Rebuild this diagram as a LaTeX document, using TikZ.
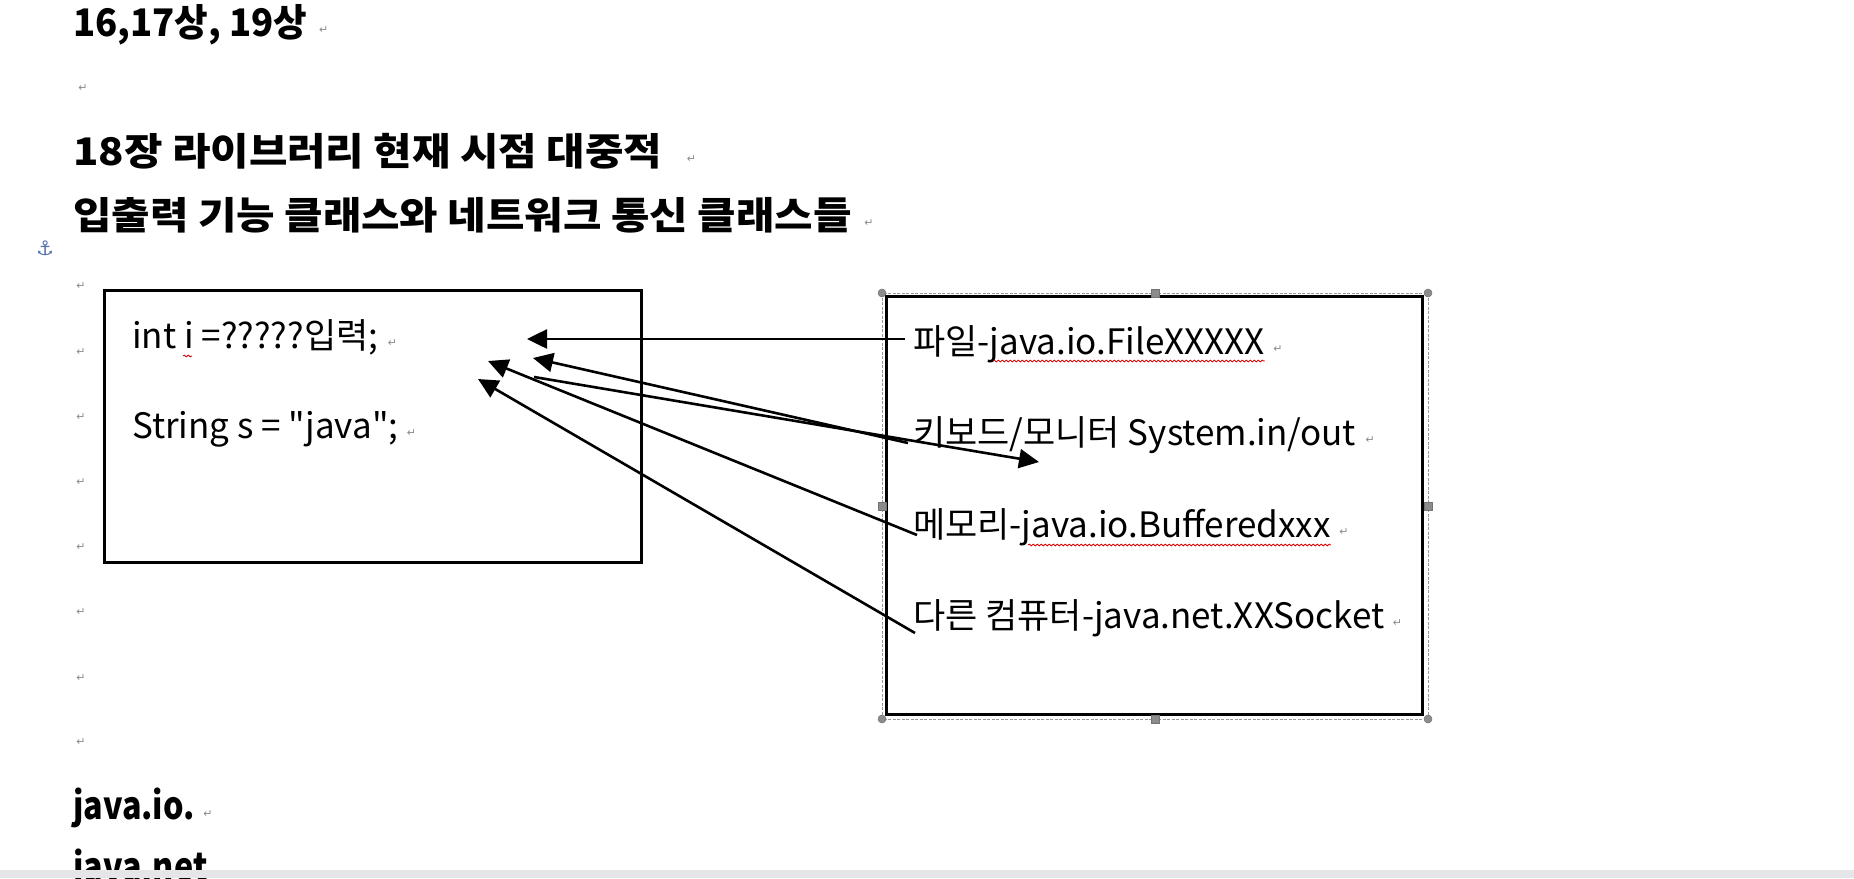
\documentclass[tikz,border=0pt]{standalone}
\usepackage{fontspec}
\setmainfont{Noto Sans CJK KR}
\newfontfamily\bodyf{Noto Sans CJK KR}[Ligatures=TeXOff]
\newfontfamily\hdK{Noto Sans CJK KR}[FakeStretch=1.1]
\newfontfamily\hdA{Noto Sans CJK KR}[FakeStretch=0.96]
\newfontfamily\hdJ{Noto Sans CJK KR}[FakeStretch=0.85]
\newfontfamily\dv{DejaVu Sans}
\usetikzlibrary{arrows.meta,decorations.pathmorphing}
\begin{document}
\begin{tikzpicture}[x=1pt,y=-1pt,
  hd/.style={anchor=base west, inner sep=0pt, font=\hdK\fontsize{38}{38}\selectfont\bfseries},
  hdnum/.style={anchor=base west, inner sep=0pt, font=\hdA\fontsize{38}{38}\selectfont\bfseries},
  hdlat/.style={anchor=base west, inner sep=0pt, font=\hdJ\fontsize{38}{38}\selectfont\bfseries},
  body/.style={anchor=base west, inner sep=0pt, font=\bodyf\fontsize{35}{35}\selectfont},
  pil/.style={anchor=center, inner sep=0pt, text=black!45, font=\dv\fontsize{11}{11}\selectfont},
  boxframe/.style={draw=black, line width=3pt},
  arr/.style={draw=black, line width=2.6pt, -{Triangle[length=20pt,width=19pt]}},
  squig/.style={draw=red!85!black, line width=0.8pt, decorate, decoration={snake,amplitude=0.9pt,segment length=4pt}},
  selframe/.style={draw=black!40, line width=1pt, dash pattern=on 3pt off 1.5pt},
  hcirc/.style={circle, fill=black!45, draw=black!55, line width=0.5pt, minimum size=8pt, inner sep=0pt},
  hsq/.style={rectangle, fill=black!45, draw=black!55, line width=0.5pt, minimum size=8pt, inner sep=0pt}
]
\useasboundingbox (0,0) rectangle (1854,878);
\fill[white] (0,0) rectangle (1854,878);

% headings
\node[hdnum] (h1) at (73,36) {16,17상, 19상};
\node[pil] (p1) at ([xshift=16pt,yshift=6pt]h1.base east) {↵};
\node[pil] (p2) at (83,88) {↵};
\node[hd] (h2) at (73,165) {18장 라이브러리 현재 시점 대중적};
\node[pil] (p3) at ([xshift=29pt,yshift=6pt]h2.base east) {↵};
\node[hd] (h3) at (73,229) {입출력 기능 클래스와 네트워크 통신 클래스들};
\node[pil] (p4) at ([xshift=17pt,yshift=6pt]h3.base east) {↵};
\node[anchor=center, inner sep=0pt, text={rgb,255:red,80;green,110;blue,170}, font=\dv\fontsize{20}{20}\selectfont] (anc) at (45,248) {⚓};

% left column paragraph marks
\foreach \yy [count=\k] in {286,352,417,482,547,612,678,742}
  \node[pil] (lp\k) at (81,\yy) {↵};

% left box
\draw[boxframe] (104,290) rectangle (641,562);
\node[body] (t1) at (132,348) {int i =?????입력;};
\node[pil] (p5) at ([xshift=14pt,yshift=5pt]t1.base east) {↵};
\draw[squig] (183,356) -- (192,356);
\node[body] (t2) at (132,438) {String s = "java";};
\node[pil] (p6) at ([xshift=13pt,yshift=5pt]t2.base east) {↵};

% right box with selection frame
\draw[selframe] (882,293) rectangle (1428,719);
\draw[boxframe] (886,296) rectangle (1422,714);
\node[hcirc] (s1) at (882,293) {};
\node[hsq] (s2) at (1155,293) {};
\node[hcirc] (s3) at (1428,293) {};
\node[hsq] (s4) at (882,506) {};
\node[hsq] (s5) at (1428,506) {};
\node[hcirc] (s6) at (882,719) {};
\node[hsq] (s7) at (1155,719) {};
\node[hcirc] (s8) at (1428,719) {};

\node[body] (r1) at (913,354) {파일-java.io.FileXXXXX};
\node[pil] (p7) at ([xshift=13pt,yshift=5pt]r1.base east) {↵};
\draw[squig] ([xshift=80pt,yshift=-7pt]r1.base west) -- ([yshift=-7pt]r1.base east);
\node[body] (r2) at (913,445) {키보드/모니터 System.in/out};
\node[pil] (p8) at ([xshift=14pt,yshift=5pt]r2.base east) {↵};
\node[body] (r3) at (913,537) {메모리-java.io.Bufferedxxx};
\node[pil] (p9) at ([xshift=13pt,yshift=5pt]r3.base east) {↵};
\draw[squig] ([xshift=115pt,yshift=-8pt]r3.base west) -- ([yshift=-8pt]r3.base east);
\node[body] (r4) at (913,628) {다른 컴퓨터-java.net.XXSocket};
\node[pil] (p10) at ([xshift=13pt,yshift=5pt]r4.base east) {↵};

% connector end points
\coordinate (a1s) at (905,339);
\coordinate (a1e) at (527,339);
\coordinate (a2s) at (908,443);
\coordinate (a2e) at (533,358);
\coordinate (a3s) at (534,377);
\coordinate (a3e) at (1039,462);
\coordinate (a4s) at (917,535);
\coordinate (a4e) at (488,361);
\coordinate (a5s) at (915,633);
\coordinate (a5e) at (478,379);

\draw[arr] (a1s) -- (a1e);
\draw[arr] (a2s) -- (a2e);
\draw[arr] (a3s) -- (a3e);
\draw[arr] (a4s) -- (a4e);
\draw[arr] (a5s) -- (a5e);

% bottom headings
\node[hdlat] (h4) at (73,819) {java.io.};
\node[pil] (p11) at ([xshift=13pt,yshift=5pt]h4.base east) {↵};
\node[hdlat] (h5) at (73,880) {java.net};
\fill[fill={rgb,255:red,230;green,230;blue,232}] (0,870) rectangle (1854,878);
\end{tikzpicture}
\end{document}
